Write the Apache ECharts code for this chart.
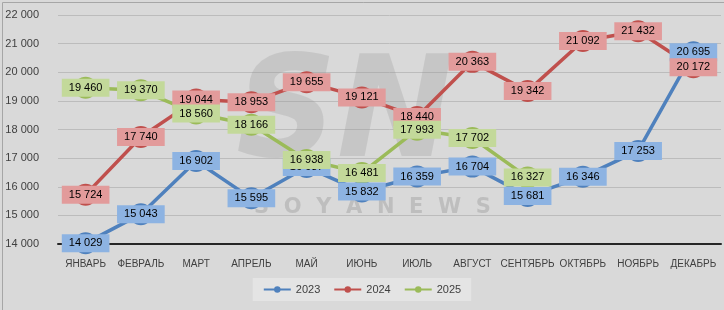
<!DOCTYPE html>
<html><head><meta charset="utf-8">
<script src="https://cdn.jsdelivr.net/npm/echarts@6/dist/echarts.min.js"></script>
<style>html,body{margin:0;padding:0;background:#d9d9d9}#c{width:724px;height:310px}</style>
</head><body><div id="c"></div>
<script>
const months = ['ЯНВАРЬ','ФЕВРАЛЬ','МАРТ','АПРЕЛЬ','МАЙ','ИЮНЬ','ИЮЛЬ','АВГУСТ','СЕНТЯБРЬ','ОКТЯБРЬ','НОЯБРЬ','ДЕКАБРЬ'];
const s2023 = [14029,15043,16902,15595,16687,15832,16359,16704,15681,16346,17253,20695];
const s2024 = [15724,17740,19044,18953,19655,19121,18440,20363,19342,21092,21432,20172];
const s2025 = [19460,19370,18560,18166,16938,16481,17993,17702,16327,null,null,null];
const names = ['2023','2024','2025'];
const lineColors = ['#4f81bd','#c0504d','#9bbb59'];
const boxColors = ['#8db3e2','#e29b9b','#c3d99a'];
const FONT = '"Liberation Sans", Arial, sans-serif';
const fmt = v => String(v).replace(/\B(?=(\d{3})+(?!\d))/g, ' ');
const all = [s2023, s2024, s2025];
const series = [];
all.forEach((d, i) => {
  series.push({
    name: names[i], type: 'line', data: d, z: 2,
    lineStyle: {width: 3.5, color: lineColors[i]},
    itemStyle: {color: lineColors[i]},
    symbol: 'circle', symbolSize: 22, showSymbol: true,
    emphasis: {disabled: true}, animation: false
  });
});
all.forEach((d, i) => {
  series.push({
    name: names[i], type: 'scatter', data: d, z: 10 + i,
    symbolSize: 0, itemStyle: {color: lineColors[i], opacity: 1},
    label: {show: true, position: 'inside', formatter: p => fmt(p.value),
      backgroundColor: boxColors[i], padding: [3, 7, 3, 7], lineHeight: 12,
      color: '#000', fontFamily: FONT, fontSize: 11},
    emphasis: {disabled: true}, animation: false, silent: true
  });
});
const chart = echarts.init(document.getElementById('c'));
chart.setOption({
  backgroundColor: '#d9d9d9',
  animation: false,
  grid: {left: 58, right: 3, top: 15, bottom: 66},
  legend: {data: names, bottom: 9, left: 'center', itemWidth: 27, itemHeight: 8, itemGap: 13,
    backgroundColor: '#e4e4e4', padding: [6, 10, 6, 10],
    itemStyle: {borderWidth: 0},
    textStyle: {fontFamily: FONT, fontSize: 11, color: '#404040'}},
  xAxis: {type: 'category', data: months, boundaryGap: true,
    axisLine: {lineStyle: {color: '#262626', width: 2}},
    axisTick: {show: false},
    axisLabel: {color: '#404040', fontFamily: FONT, fontSize: 10, interval: 0, margin: 15}},
  yAxis: {type: 'value', min: 14000, max: 22000, interval: 1000,
    axisLine: {show: false}, axisTick: {show: false},
    splitLine: {lineStyle: {color: '#bcbcbc', width: 1}},
    axisLabel: {color: '#404040', fontFamily: FONT, fontSize: 11, margin: 19, formatter: v => fmt(v)}},
  graphic: [
    {type: 'rect', left: 0, top: 0, shape: {width: 723, height: 309}, style: {fill: 'none', stroke: '#a6a6a6', lineWidth: 1}, silent: true, z: 100},
    {type: 'text', left: 236, top: 50, z: 1, silent: true,
      style: {text: 'SN', font: 'italic bold 140px "DejaVu Sans"', fill: 'rgba(150,150,150,0.28)'}},
    {type: 'text', left: 254, top: 197, z: 1, silent: true,
      style: {text: 'S  O  Y  A  N  E  W  S', font: 'bold 21px "DejaVu Sans"', fill: 'rgba(150,150,150,0.4)'}}
  ],
  series: series
});
</script></body></html>
